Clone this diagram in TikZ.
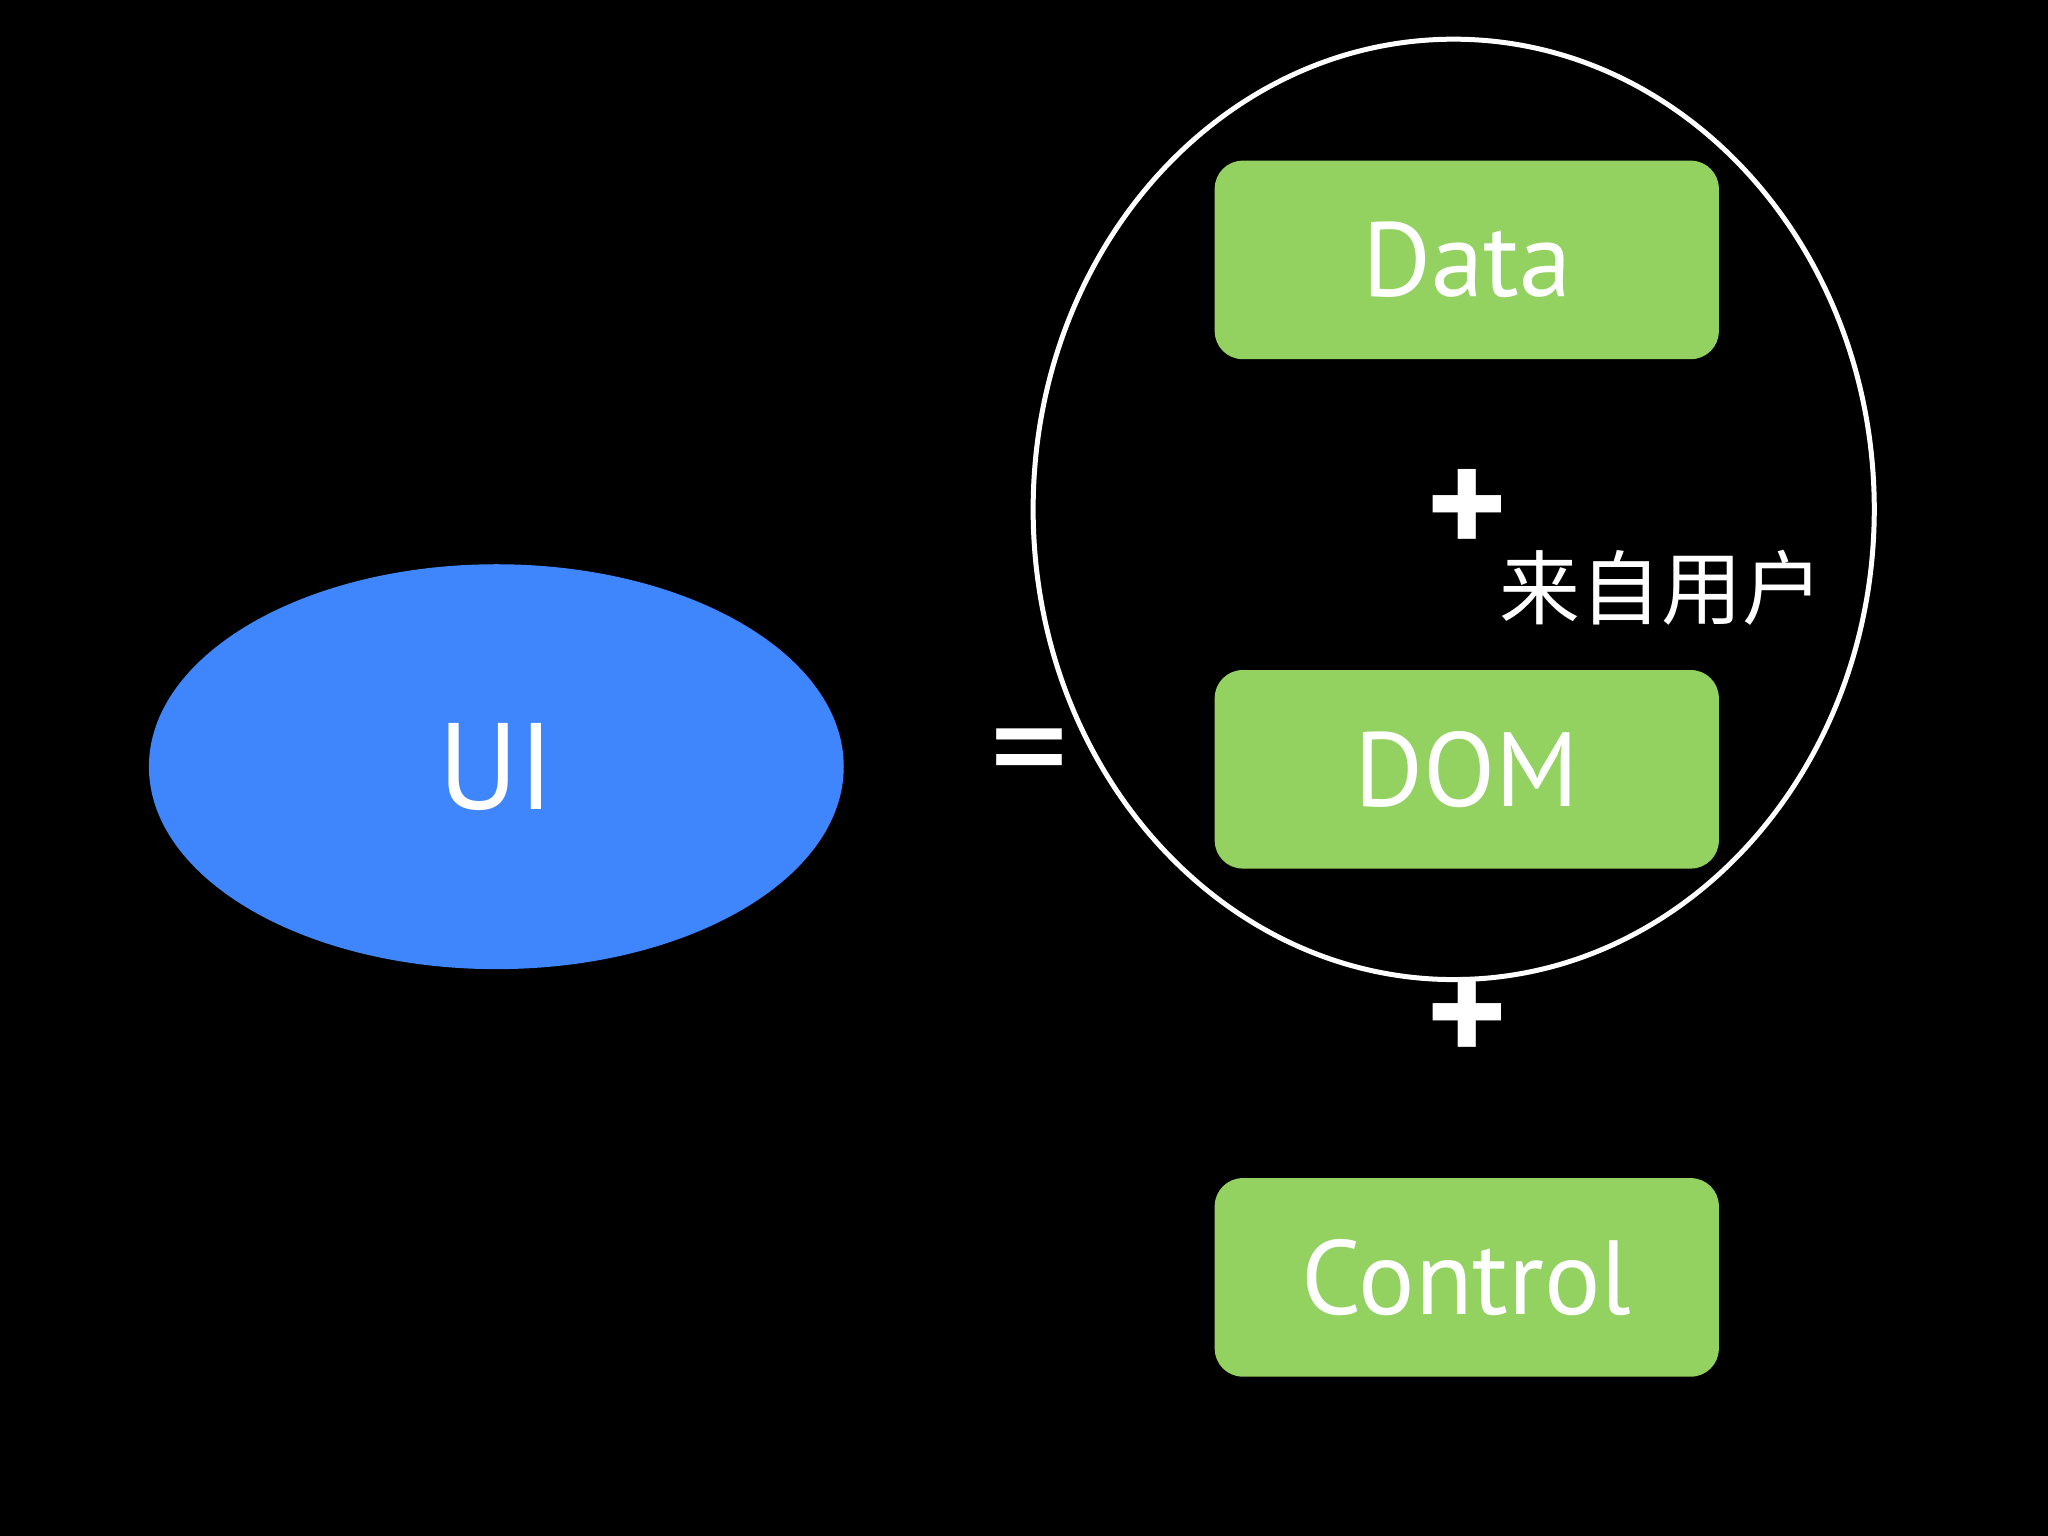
\documentclass[tikz,border=0pt]{standalone}
\usepackage{fontspec}
\setmainfont{PT Sans}
\newfontfamily\cjk{Noto Sans CJK SC}
\usetikzlibrary{shapes.geometric,shadows}
\definecolor{uiblue}{HTML}{3F86FD}
\definecolor{boxgreen}{HTML}{93D260}
\begin{document}
\begin{tikzpicture}[x=0.013061cm,y=-0.013061cm,
  box/.style={fill=boxgreen,rounded corners=0.28cm,minimum width=386*0.013061cm,minimum height=152*0.013061cm,inner sep=0pt},
  lbl/.style={text=white,font=\fontsize{30}{36}\selectfont},
  plus/.style={text=white,font=\bfseries\fontsize{44}{50}\selectfont,inner sep=0pt}]
\fill[black] (0,0) rectangle (1568,1176);
\useasboundingbox (0,0) rectangle (1568,1176);
\node[ellipse,fill=uiblue,minimum width=532*0.013061cm,minimum height=310*0.013061cm,inner sep=0pt] (ui) at (380,587) {};
\node[lbl,font=\fontsize{35}{40}\selectfont] at (ui) {UI};
\node[text=white,font=\fontsize{44}{50}\selectfont,inner sep=0pt] (eq) at (788,585) {=};
\node[box] (data) at (1123,199) {};
\node[lbl] at (data) {Data};
\node[box] (dom) at (1123,589) {};
\node[lbl] at (dom) {DOM};
\node[box] (ctrl) at (1123,978) {};
\node[lbl] at (ctrl) {Control};
\node[ellipse,draw=white,line width=0.05cm,minimum width=644*0.013061cm,minimum height=720*0.013061cm,inner sep=0pt] (ring) at (1113,390) {};
\node[plus] (p1) at (1123,393) {+};
\node[plus] (p2) at (1123,782) {+};
\node[text=white,font=\cjk\fontsize{23}{28}\selectfont,inner sep=0pt] (user) at (1272,450) {来自用户};
\end{tikzpicture}
\end{document}
